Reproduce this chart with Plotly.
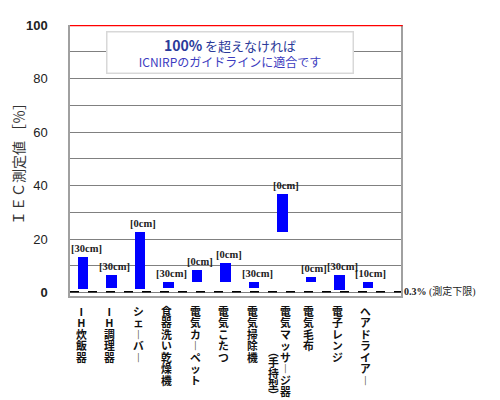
import plotly.graph_objects as go

# 家電製品ごとの IEC 測定値 (下端〜上端, %)
appliances = ["IH炊飯器", "IH調理器", "シェーバー", "食器洗い乾燥機", "電気カーペット",
              "電気こたつ", "電気掃除機", "電気マッサージ器", "電気毛布", "電子レンジ", "ヘアドライアー"]
sub_labels = ["", "", "", "", "", "", "", "(手持型)", "", "", ""]
distances = ["[30cm]", "[30cm]", "[0cm]", "[30cm]", "[0cm]", "[0cm]",
             "[30cm]", "[0cm]", "[0cm]", "[30cm]", "[10cm]"]
low_vals = [1.3, 1.6, 1.3, 1.6, 3.8, 3.8, 1.6, 22.7, 3.8, 0.9, 1.6]
high_vals = [13.4, 6.5, 22.7, 3.8, 8.4, 10.9, 3.8, 36.8, 5.9, 6.5, 3.8]

limit = 100
lower_limit = 0.3
ytick_vals = [0, 10, 20, 30, 40, 50, 60, 70, 80, 90, 100]
ytick_text = ["<b>0</b>", "", "20", "", "40", "", "60", "", "80", "", "<b>100</b>"]

# 縦書き用の字形
VERT = {"ー": "︱", "(": "︵", ")": "︶"}


def vertical(s):
    # 行送りは注釈の基本サイズで決まるので、文字だけ大きくする
    return "<br>".join("<span style='font-size:10.8px'><b>%s</b></span>" % VERT.get(c, c) for c in s)


fig = go.Figure()
fig.add_trace(go.Bar(
    x=appliances,
    y=[h - l for l, h in zip(low_vals, high_vals)],
    base=low_vals,
    width=0.37,
    marker=dict(color="#0000ff", line=dict(width=0)),
    hoverinfo="skip",
))

# 測定距離 (棒の上)
for name, top, dist in zip(appliances, high_vals, distances):
    fig.add_annotation(x=name, y=top, yanchor="bottom", xshift=3, yshift=1,
                       text="<b>%s</b>" % dist, showarrow=False,
                       font=dict(family="Liberation Serif", size=10.5, color="#222222"))

# 上限 100% (赤線) と測定下限 0.3% (破線)
fig.add_shape(type="line", xref="paper", x0=0, x1=1.005, y0=limit, y1=limit,
              line=dict(color="#ff0000", width=2.5))
fig.add_shape(type="line", xref="paper", x0=0, x1=1, y0=lower_limit, y1=lower_limit,
              line=dict(color="#000000", width=1.6, dash="dash"))

fig.add_annotation(xref="paper", x=1, y=lower_limit, xanchor="left", xshift=1,
                   text="<b>0.3%</b> (測定下限)", showarrow=False,
                   font=dict(family="Liberation Serif, Noto Sans CJK JP", size=10, color="#222222"))

fig.add_annotation(xref="paper", yref="paper", x=0.482, y=0.90, yanchor="middle",
                   text=("<b><span style='font-size:14px'>100%</span></b> を超えなければ<br>"
                         "<span style='font-size:12px;color:#3c3cc0'>ICNIRPのガイドラインに適合です</span>"),
                   showarrow=False, width=243, height=38,
                   bgcolor="#ffffff", bordercolor="#d8d8d8", borderwidth=1.5,
                   font=dict(family="Noto Sans CJK JP", size=13, color="#2a3a9a"))

# 縦書きの項目名
for name, sub in zip(appliances, sub_labels):
    fig.add_annotation(x=name, yref="paper", y=0, yanchor="top", yshift=-5,
                       xshift=3 if sub else -2,
                       text=vertical(name), showarrow=False,
                       font=dict(family="Noto Sans CJK JP", size=8.8, color="#111111"))
    if sub:
        fig.add_annotation(x=name, yref="paper", y=0, yanchor="top", yshift=-45, xshift=-9,
                           text=vertical(sub), showarrow=False,
                           font=dict(family="Noto Sans CJK JP", size=8.4, color="#111111"))

# ページ余白 8px ぶんを差し引いた大きさ
fig.update_layout(
    width=492, height=392,
    margin=dict(l=62, r=99, t=17, b=104, autoexpand=False),
    plot_bgcolor="#ffffff", paper_bgcolor="#ffffff",
    showlegend=False, bargap=0,
    font=dict(family="Liberation Sans, Noto Sans CJK JP", color="#222222"),
)
fig.update_xaxes(type="category", range=[-0.46, 11.16], showticklabels=False,
                 showgrid=False, showline=True, linecolor="#a0a0a0", linewidth=1.5,
                 ticks="", fixedrange=True, automargin=False)
fig.update_yaxes(range=[-1.3, 100], tickvals=ytick_vals, ticktext=ytick_text,
                 tickfont=dict(size=13, color="#222222"), ticklabelstandoff=18,
                 showgrid=True, gridcolor="#808080", gridwidth=1.4,
                 showline=True, mirror=True, linecolor="#a0a0a0", linewidth=1.5,
                 zeroline=False, ticks="", automargin=False,
                 title=dict(text="ＩＥＣ測定値 ［％］", standoff=6,
                            font=dict(family="Noto Sans CJK JP", size=14, color="#333333")))

fig.write_html("out.html")
